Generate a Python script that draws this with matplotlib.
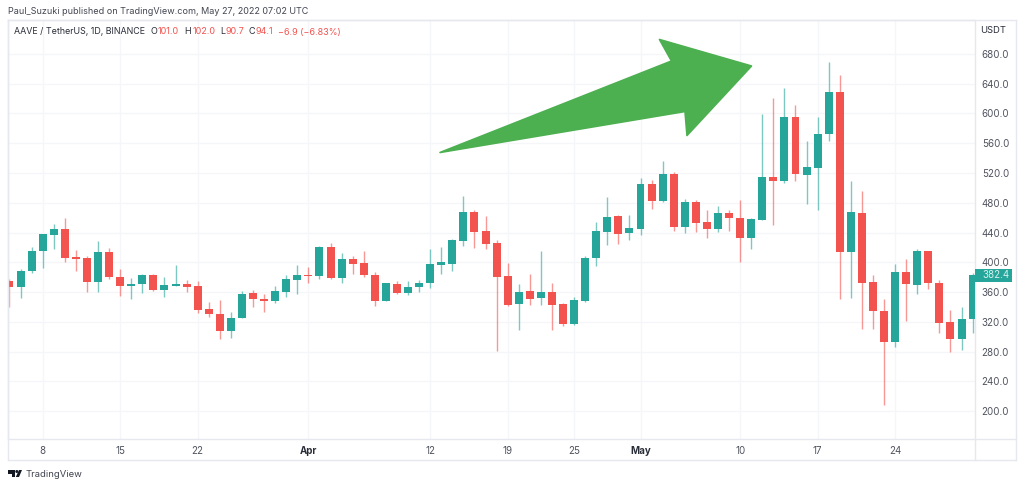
import matplotlib
matplotlib.use("Agg")
import matplotlib.pyplot as plt
from matplotlib.patches import Polygon, Rectangle, Circle
from matplotlib.lines import Line2D
from matplotlib.transforms import Affine2D

plt.rcParams['font.family'] = ['Inter', 'DejaVu Sans']

opens = [374.4,366.8,387.8,414.7,437.1,444.3,406.7,405.8,374,413.8,380.2,367.7,370.8,383.3,362.8,368.6,370.4,368.1,336.8,330.5,307.6,325.1,359.2,350.6,347.5,360.5,376.6,382.9,382,420.1,
         379.4,404,398.6,383.4,348.4,371.3,358.3,366.8,371.7,396.8,398.2,428.6,467.2,441.6,425.5,381.6,344.4,361.4,351.6,360.1,344,316.6,348.4,405.3,440.7,462.2,438.9,444.7,505.7,482,
         519.1,447.9,481,453.8,444.8,466.8,460,432.7,456.9,514.7,508.9,594.9,516.9,527.2,572,629.4,413.3,466.8,373,334.5,292.4,387.4,369.9,414.7,372.1,320.2,297.3,323.7]
highs = [377.1,391.4,420.1,437.6,451,459.5,416,408,428.1,418.8,390.5,378.4,384.2,384.2,380.2,396.8,376.2,374.4,346.2,348.9,333.6,360.9,362.3,356.9,368.1,383.3,395.9,393.7,422.3,426.4,
         412,408.9,415.2,387.4,371.7,374.4,375.3,375.8,417.9,421,430.9,489.1,470.7,462.7,429.5,398.6,371.3,384.7,415.2,372.2,345.3,353.8,408.9,453.7,487.3,464,463.1,512.8,510.6,536.1,
         520.9,485.1,483.3,469.9,476.2,469.9,483.3,459.6,599.4,621.3,634.8,611,563.5,594.9,669.3,651.3,509.8,495.4,382.9,350.6,397.7,404.8,417.8,414.7,376.2,335.8,339.9,385.1]
lows = [340.3,352.4,385.1,392.3,417.4,400,388.3,360.5,360.5,378,354.7,350.6,358.3,361.9,353.3,367.7,359.6,332.3,326,296.4,298.7,324.7,340.3,333.2,345.3,353.8,357.8,371.7,378,377.1,
        372.6,383.8,379.8,341.3,347.5,357.4,356.5,360.5,365.9,384.7,387.9,422.3,419.6,418.3,281.2,341.3,309.5,342.2,343.1,308.6,314.8,315.7,346.2,395,423.2,424.6,429.5,436.7,471.2,481.5,
        442.5,439.9,440.8,432.7,440.8,441.7,399.9,417.8,456.9,450.6,507.1,508.9,478.4,470.3,563.1,350.2,352.4,310.8,310.8,208.1,286.6,321.5,357.4,364.5,304.5,279.8,282,304.5]
closes = [366.8,388.3,414.7,437.6,444.3,406.2,404.4,374,413.8,379.8,367.7,371.3,383.3,362.8,369,370.4,367.2,336.3,330,307.6,325.6,357.8,350.6,347.5,360.9,377.1,382.5,382,420.1,378.9,
          404,398.2,382.9,348.4,371.7,358.3,367.2,372.2,397.7,400,429.5,467.2,440.7,424.1,380.7,343.1,360.1,351.1,360.1,343.1,317.1,348.9,406.2,441.6,460.9,438.5,445.6,504.8,482.4,519.1,
          447.9,481.5,452.9,444.8,466.8,459.1,432.7,457.8,514.7,508.9,594.9,518.3,527.7,572.5,629.4,414.2,468.1,372.6,334,292.4,387.4,370.8,414.7,371.7,318.8,297.3,324.2,382.4]

price_ticks = [200, 240, 280, 320, 360, 400, 440, 480, 520, 560, 600, 640, 680]
date_ticks = [3, 10, 17, 27, 38, 45, 51, 57, 66, 73, 80]
date_labels = ['8', '15', '22', 'Apr', '12', '19', '25', 'May', '10', '17', '24']
bold_dates = {'Apr', 'May'}
last_price = 382.4

W, H = 1024, 487
UP, DOWN = '#26a69a', '#f2534f'
GRID, BORDER = '#f5f6fa', '#e6e8ef'
TEXT = '#50535e'
FS = 7.0

fig = plt.figure(figsize=(W / 100, H / 100), dpi=100, facecolor='white')
L, R, T, B = 7.5, 974.5, 20.0, 439.0
ax = fig.add_axes([L / W, 1 - B / H, (R - L) / W, (B - T) / H])
ax.set_xlim(-0.18, 87.17)
ax.set_ylim(162.4, 725.7)

ax.set_axisbelow(True)
ax.grid(True, color=GRID, linewidth=1)
for s in ax.spines.values():
    s.set_color(BORDER)
    s.set_linewidth(1)

x = list(range(len(opens)))
colors = [UP if c >= o else DOWN for o, c in zip(opens, closes)]
ax.vlines(x, lows, highs, colors=colors, linewidth=1, alpha=0.6, zorder=2)
ax.bar(x, [abs(c - o) for o, c in zip(opens, closes)],
       bottom=[min(o, c) for o, c in zip(opens, closes)],
       width=0.72, color=colors, linewidth=0, zorder=3)

ax.yaxis.tick_right()
ax.set_yticks(price_ticks, [f'{p:.1f}' for p in price_ticks])
ax.set_xticks(date_ticks, date_labels)
ax.tick_params(axis='both', length=0, labelsize=FS, labelcolor=TEXT)
ax.tick_params(axis='y', pad=5.2)
ax.tick_params(axis='x', pad=4.8)
for lab in ax.get_xticklabels():
    if lab.get_text() in bold_dates:
        lab.set_fontweight('bold')
        lab.set_color('#2a2e39')


def px(xp, yp):
    return xp / W, 1 - yp / H


def ftext(xp, yp, s, color=TEXT, size=FS, **kw):
    fig.text(*px(xp, yp), s, color=color, fontsize=size, va='center', **kw)


pixel = Affine2D().scale(1 / W, -1 / H).translate(0, 1) + fig.transFigure

# frame of the widget
for pts in ([(7.5, 20), (7.5, 460)], [(7.5, 460), (1016, 460)], [(1016, 20), (1016, 460)],
            [(7.5, 20), (1016, 20)], [(974.5, 439), (974.5, 460)], [(974.5, 439), (1016, 439)]):
    fig.add_artist(Line2D([p[0] for p in pts], [p[1] for p in pts], color=BORDER, lw=1, transform=pixel))

# arrow annotation
arrow = [(440, 152.5), (671.5, 61), (659.5, 39.5), (751.5, 66), (687, 135.5), (685, 111.5)]
fig.add_artist(Polygon(arrow, closed=True, facecolor='#4caf50', edgecolor='#4caf50', lw=1.2,
                       joinstyle='round', transform=pixel, zorder=5))

# last price tag
fig.add_artist(Rectangle((974.5, 269), 37.5, 13, facecolor=UP, edgecolor='none', transform=pixel, zorder=6))
fig.text(*px(982, 275.5), f'{last_price:.1f}', color='#d8f1ee', fontsize=FS, va='center', zorder=7)

# header
ftext(8, 12, 'Paul_Suzuki published on TradingView.com, May 27, 2022 07:02 UTC', color='#434651', size=6.5)
ftext(14, 32, 'AAVE / TetherUS, 1D, BINANCE', color='#2a2e39', size=6.4)
for xp, s, col in [(150.7, 'O', '#2a2e39'), (158, '101.0', DOWN), (184.5, 'H', '#2a2e39'), (192.7, '102.0', DOWN),
                   (220, 'L', '#2a2e39'), (225.5, '90.7', DOWN), (248.7, 'C', '#2a2e39'), (255, '94.1', DOWN),
                   (278, '\u22126.9 (\u22126.83%)', DOWN)]:
    ftext(xp, 32, s, color=col, size=6.5)
ftext(980.5, 30.5, 'USDT', color='#2a2e39', size=6.8)

# footer logo and word
fig.add_artist(Polygon([(7.5, 470), (15, 470), (15, 477), (11.5, 477), (11.5, 473.5), (7.5, 473.5)], closed=True,
                       facecolor='#131722', edgecolor='none', transform=pixel))
fig.add_artist(Polygon([(15.8, 477), (19, 470), (22, 470), (19, 477)], closed=True,
                       facecolor='#131722', edgecolor='none', transform=pixel))
fig.add_artist(Circle((16.8, 471.5), 1.5, facecolor='#131722', edgecolor='none', transform=pixel))
ftext(25.5, 474.5, 'TradingView', color='#434651', size=6.8)

fig.savefig('out.png', dpi=100)
